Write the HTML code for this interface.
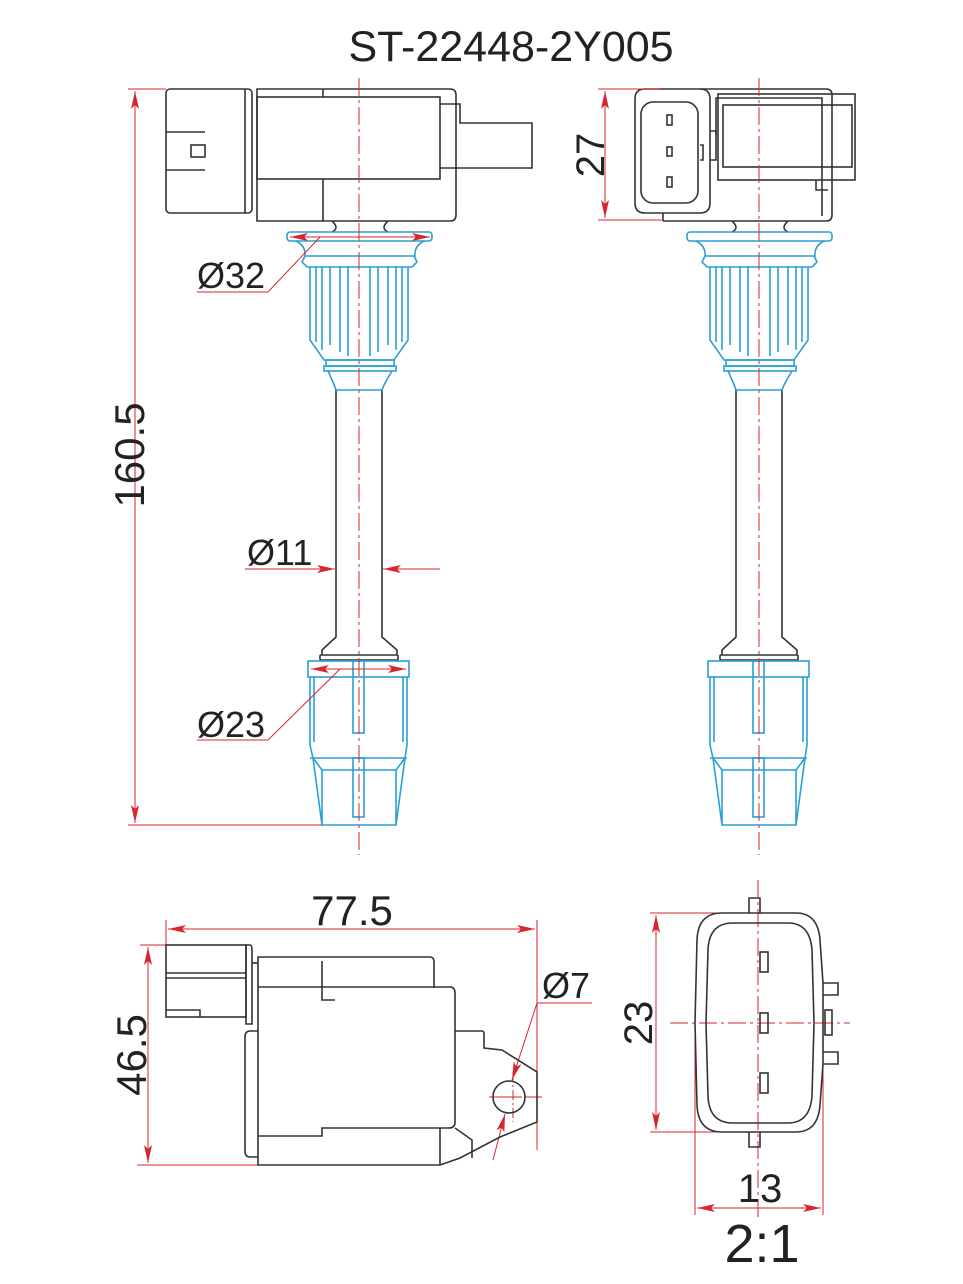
<!DOCTYPE html>
<html><head><meta charset="utf-8"><style>
html,body{margin:0;padding:0;background:#fff}
svg{display:block}
text{font-family:"Liberation Sans",sans-serif;fill:#222}
</style></head><body>
<svg width="963" height="1284" viewBox="0 0 963 1284" xmlns="http://www.w3.org/2000/svg">
<defs>
<marker id="ar" viewBox="0 0 18 8" refX="18" refY="4" markerWidth="18" markerHeight="8" markerUnits="userSpaceOnUse" orient="auto-start-reverse">
<path d="M0,0 L18,4 L0,8 L4,4 Z" fill="#d9262e"/></marker>
<g id="coil">
 <g fill="none" stroke="#333" stroke-width="1.6">
  <path d="M332,221 Q340,228 332,232 M388,221 Q380,228 388,232"/>
  <path d="M336,390 L336,637 L322,650 L322,655 M382,390 L382,637 L397,650 L397,655"/>
  <rect x="320" y="655" width="78" height="5" rx="1"/>
 </g>
 <g fill="none" stroke="#2a9fd6" stroke-width="1.6">
  <rect x="287" y="232" width="145" height="9" rx="3"/>
  <path d="M296,241 Q306,246 305,256 L415,256 Q414,246 424,241"/>
  <path d="M305,256 L302,262 L307,267 L412,267 L417,262 L414,256"/>
  <path d="M310,267 L310,340 L324,360 L394,360 L408,340 L408,267"/>
  <path d="M316,267 V342 M322,267 V350 M330,267 V345 M340,267 V352 M348,267 V356 M370,267 V356 M378,267 V352 M388,267 V345 M396,267 V350 M402,267 V342"/>
  <rect x="326" y="360" width="68" height="6"/>
  <rect x="324" y="366" width="72" height="5"/>
  <path d="M328,371 Q334,384 336,390 L382,390 Q384,384 392,371"/>
  <rect x="308" y="661" width="101" height="16"/>
  <path d="M310,677 L310,745 L313,758 M407,677 L407,745 L405,758 M314,677 V742 M403,677 V742 M310,758 H407"/>
  <rect x="353" y="661" width="11" height="72"/>
  <path d="M313,758 L322,825 L396,825 L405,758 M313,758 L322,770 L322,825 M405,758 L396,770 L396,825 M322,770 H396"/>
  <rect x="353" y="758" width="11" height="59"/>
 </g>
</g>
</defs>

<text x="511" y="61" font-size="43" text-anchor="middle">ST-22448-2Y005</text>

<!-- LEFT TOP VIEW -->
<g fill="none" stroke="#333" stroke-width="1.6">
 <rect x="166" y="89" width="86" height="124" rx="4"/>
 <path d="M245,89 V213 M166,132 H205 M166,170 H205"/>
 <rect x="191" y="145" width="14" height="12"/>
 <path d="M257,89 H450 Q456,89 456,95 V215 Q456,221 450,221 H257 Z"/>
 <rect x="257" y="97" width="183" height="82"/>
 <path d="M323,179 V221 M323,89 V97"/>
 <path d="M440,104 H460 V123 H532 V168 H440"/>
</g>
<use href="#coil"/>

<!-- RIGHT TOP VIEW -->
<g fill="none" stroke="#333" stroke-width="1.6">
 <path d="M663,221 V213 M663,221 H826 Q832,221 832,215 V95 Q832,89 826,89 H700"/>
 <path d="M700,89 H645 Q635,89 635,99 V203 Q635,213 645,213 H700 Q710,213 710,203 V99 Q710,89 700,89"/>
 <rect x="641" y="102" width="57" height="101" rx="12"/>
 <rect x="667" y="115" width="5" height="10"/><rect x="667" y="147" width="5" height="9"/><rect x="667" y="177" width="5" height="10"/>
 <path d="M710,131 H716 V160 H710 M700,145 H703 V160 H700"/>
 <path d="M716,135 V98 H822 V216"/>
 <rect x="718" y="94" width="137" height="86"/>
 <rect x="723" y="105" width="129" height="62"/>
 <path d="M816,180 V190 H828"/>
</g>
<use href="#coil" transform="translate(400,0)"/>

<!-- centerlines -->
<g stroke="#d9262e" stroke-width="1" stroke-dasharray="18,4,3,4">
 <path d="M359,78 V855 M759,78 V855"/>
 <path d="M758,880 V1218 M670,1023 H850"/>
 <path d="M495,1097 H543 M509,1076 H509"/>
</g>
<path d="M513,1072 V1122 M489,1097 H530" stroke="#d9262e" stroke-width="1" stroke-dasharray="10,3,2,3"/>

<!-- dimensions -->
<g stroke="#d9262e" stroke-width="1" fill="none">
 <path d="M128,89 H166 M128,825 H322"/>
 <path d="M135,91 V823" marker-start="url(#ar)" marker-end="url(#ar)"/>
 <path d="M290,237 H430" marker-start="url(#ar)" marker-end="url(#ar)"/>
 <path d="M320,237 L268,292 H197"/>
 <path d="M245,569 H335" marker-end="url(#ar)"/>
 <path d="M440,569 H383" marker-end="url(#ar)"/>
 <path d="M311,669 H406" marker-start="url(#ar)" marker-end="url(#ar)"/>
 <path d="M340,669 L268,740 H197"/>
 <path d="M598,89 H660 M598,220 H663"/>
 <path d="M605,91 V218" marker-start="url(#ar)" marker-end="url(#ar)"/>
 <path d="M166,920 V945 M537,920 V1150"/>
 <path d="M168,929 H535" marker-start="url(#ar)" marker-end="url(#ar)"/>
 <path d="M140,945 H166 M137,1165 H258"/>
 <path d="M148,947 V1163" marker-start="url(#ar)" marker-end="url(#ar)"/>
 <path d="M592,1003 H537 L512,1080" marker-end="url(#ar)"/>
 <path d="M493,1160 L505,1114" marker-end="url(#ar)"/>
 <path d="M650,913 H750 M650,1132 H750"/>
 <path d="M656,915 V1130" marker-start="url(#ar)" marker-end="url(#ar)"/>
 <path d="M695,1023 V1215 M823,1023 V1215"/>
 <path d="M697,1208 H821" marker-start="url(#ar)" marker-end="url(#ar)"/>
</g>

<!-- BOTTOM LEFT SIDE VIEW -->
<g fill="none" stroke="#333" stroke-width="1.6">
 <rect x="166" y="945" width="80" height="72"/>
 <path d="M166,973 H246 M166,978 H246 M166,1010 H200 V1017"/>
 <path d="M246,945 H250 Q252,945 252,950 V1024 H246 Z"/>
 <path d="M252,963 H258"/>
 <path d="M258,1031 V957 H430 Q434,957 434,962 V988"/>
 <path d="M258,987 H450 Q455,987 455,993 V1122 Q455,1128 449,1128 H322 V1136 H258"/>
 <path d="M322,961 V1000 H335"/>
 <path d="M258,1031 H250 Q245,1031 245,1037 V1151 Q245,1157 250,1157 H258"/>
 <path d="M258,1031 V1165 H440 V1128"/>
 <path d="M455,1031 H482 Q484,1031 484,1034 V1048 L502,1050 L537,1072 V1122 L500,1137 L460,1158 L440,1165"/>
 <path d="M455,1128 L472,1140 V1158"/>
 <circle cx="509" cy="1097" r="16"/>
</g>

<!-- BOTTOM RIGHT CONNECTOR FACE -->
<g fill="none" stroke="#333" stroke-width="1.6">
 <path d="M749,913 V898 H760 V913 M749,1132 V1147 H760 V1132"/>
 <path d="M722,913 H796 Q818,913 820,940 L823,983 V1064 L820,1105 Q818,1132 796,1132 H722 Q698,1132 697,1105 L695,1023 L697,940 Q698,913 722,913 Z"/>
 <path d="M733,923 H788 Q810,923 812,950 L814,1023 L812,1096 Q810,1123 788,1123 H733 Q709,1123 708,1096 L706,1023 L708,950 Q709,923 733,923 Z"/>
 <rect x="760" y="952" width="8" height="20"/><rect x="760" y="1013" width="8" height="20"/><rect x="760" y="1073" width="8" height="20"/>
 <path d="M823,983 H838 V995 H823 M823,1052 H838 V1064 H823"/>
 <rect x="825" y="1010" width="7" height="25"/>
</g>

<!-- labels -->
<text x="0" y="0" font-size="42" text-anchor="middle" transform="translate(144,455) rotate(-90)">160.5</text>
<text x="197" y="288" font-size="36">Ø32</text>
<text x="247" y="565" font-size="36">Ø11</text>
<text x="197" y="737" font-size="36">Ø23</text>
<text x="0" y="0" font-size="40" text-anchor="middle" transform="translate(604,155) rotate(-90)">27</text>
<text x="352" y="925" font-size="42" text-anchor="middle">77.5</text>
<text x="542" y="998" font-size="36">Ø7</text>
<text x="0" y="0" font-size="42" text-anchor="middle" transform="translate(146,1055) rotate(-90)">46.5</text>
<text x="0" y="0" font-size="40" text-anchor="middle" transform="translate(652,1023) rotate(-90)">23</text>
<text x="760" y="1202" font-size="40" text-anchor="middle">13</text>
<text x="762" y="1262" font-size="54" text-anchor="middle">2:1</text>
</svg>
</body></html>
